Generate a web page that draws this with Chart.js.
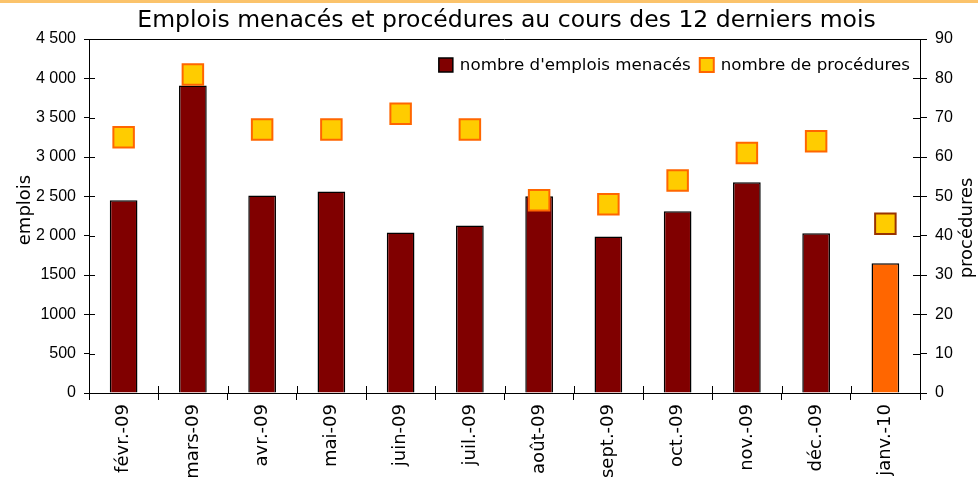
<!DOCTYPE html>
<html>
<head>
<meta charset="utf-8">
<script src="https://cdn.jsdelivr.net/npm/chart.js@4.4.1/dist/chart.umd.min.js"></script>
<style>
    html, body { margin: 0; padding: 0; background: #fff; }
    #wrap { width: 978px; height: 478px; position: relative; }
</style>
</head>
<body>
<div id="wrap"><canvas id="c" width="978" height="478"></canvas></div>
<script>
// valeurs
var months = ['févr.-09', 'mars-09', 'avr.-09', 'mai-09', 'juin-09', 'juil.-09', 'août-09', 'sept.-09', 'oct.-09', 'nov.-09', 'déc.-09', 'janv.-10'];
var emplois = [2450, 3910, 2510, 2560, 2040, 2130, 2500, 1990, 2310, 2680, 2030, 1650];
var procedures = [65, 81, 67, 67, 71, 67, 49, 48, 54, 61, 64, 43];
var leftTicks = ['0', '500', '1000', '1500', '2 000', '2 500', '3 000', '3 500', '4 000', '4 500'];
var rightTicks = ['0', '10', '20', '30', '40', '50', '60', '70', '80', '90'];
var titre = 'Emplois menacés et procédures au cours des 12 derniers mois';

var FONT = "'DejaVu Sans', Verdana, sans-serif";
var TICKFONT = "'Liberation Sans', Arial, sans-serif";
var last = emplois.length - 1;

// bordure orange, titre, ligne du haut, petits traits intérieurs, titres d'axes, légende
var decor = {
    id: 'decor',
    beforeDraw: function(chart) {
        var ctx = chart.ctx;
        ctx.save();
        ctx.fillStyle = '#fbc36b';
        ctx.fillRect(0, 0, chart.width, 3);
        ctx.restore();
    },
    afterDraw: function(chart) {
        var ctx = chart.ctx, a = chart.chartArea;
        var x = chart.scales.x, y = chart.scales.y, y1 = chart.scales.y1;
        ctx.save();

        // titre centré sur la zone de tracé
        ctx.fillStyle = '#000';
        ctx.font = '23.5px ' + FONT;
        ctx.textAlign = 'center';
        ctx.textBaseline = 'middle';
        ctx.fillText(titre, (a.left + a.right) / 2 + 2, 21);

        ctx.strokeStyle = '#000';
        ctx.lineWidth = 1;
        ctx.beginPath();
        ctx.moveTo(a.left, a.top + 0.5);
        ctx.lineTo(a.right, a.top + 0.5);
        var i, p;
        for (i = 0; i < y.ticks.length; i++) {
            p = Math.round(y.getPixelForTick(i)) + 0.5;
            ctx.moveTo(a.left, p); ctx.lineTo(a.left + 6, p);
        }
        for (i = 0; i < y1.ticks.length; i++) {
            p = Math.round(y1.getPixelForTick(i)) + 0.5;
            ctx.moveTo(a.right - 7, p); ctx.lineTo(a.right, p);
        }
        for (i = 0; i <= months.length; i++) {
            p = Math.round(x.left + i * x.width / months.length) + 0.5;
            ctx.moveTo(p, a.bottom - 7); ctx.lineTo(p, a.bottom);
        }
        ctx.stroke();

        // titres d'axes (tous deux lus de bas en haut)
        ctx.font = '18px ' + FONT;
        ctx.save(); ctx.translate(25, 210); ctx.rotate(-Math.PI / 2); ctx.fillText('emplois', 0, 0); ctx.restore();
        ctx.save(); ctx.translate(967, 228); ctx.rotate(-Math.PI / 2); ctx.fillText('procédures', 0, 0); ctx.restore();

        // légende
        ctx.font = '16.7px ' + FONT;
        ctx.textAlign = 'left';
        var t1 = chart.data.datasets[0].label, t2 = chart.data.datasets[1].label;
        var w2 = ctx.measureText(t2).width, w1 = ctx.measureText(t1).width;
        var end = 910, cy = 65, box = 14, gap = 7;
        var x2 = end - w2 - gap - box;
        var x1 = x2 - 9 - w1 - gap - box;
        ctx.fillStyle = '#800000';
        ctx.fillRect(x1, cy - box / 2, box, box);
        ctx.lineWidth = 1.5; ctx.strokeStyle = '#000';
        ctx.strokeRect(x1, cy - box / 2, box, box);
        ctx.fillStyle = '#000';
        ctx.fillText(t1, x1 + box + gap, cy + 1);
        ctx.fillStyle = '#ffcc00';
        ctx.fillRect(x2, cy - box / 2, box, box);
        ctx.lineWidth = 2; ctx.strokeStyle = '#ff6600';
        ctx.strokeRect(x2, cy - box / 2, box, box);
        ctx.fillStyle = '#000';
        ctx.fillText(t2, x2 + box + gap, cy + 1);
        ctx.restore();
    }
};

new Chart(document.getElementById('c'), {
    data: {
        labels: months,
        datasets: [
            { type: 'bar', label: "nombre d'emplois menacés", data: emplois, yAxisID: 'y', order: 2,
              backgroundColor: emplois.map(function(v, i) { return i === last ? '#ff6600' : '#800000'; }),
              borderColor: '#000', borderWidth: 1.5, barPercentage: 0.4, categoryPercentage: 1 },
            { type: 'line', label: 'nombre de procédures', data: procedures, yAxisID: 'y1', order: 1,
              showLine: false, pointStyle: 'rect', pointRadius: 14.5, pointBorderWidth: 2,
              pointBackgroundColor: '#ffcc00',
              pointBorderColor: procedures.map(function(v, i) { return i === last ? '#993300' : '#ff6600'; }) }
        ]
    },
    options: {
        responsive: false, animation: false, events: [],
        layout: { padding: { top: 39, left: 0, right: 0, bottom: 0 } },
        plugins: {
            legend: { display: false },
            tooltip: { enabled: false },
            title: { display: false }
        },
        scales: {
            x: {
                offset: true,
                grid: { display: true, offset: true, drawOnChartArea: false, tickLength: 7, color: '#000' },
                border: { color: '#000', width: 1 },
                ticks: { minRotation: 90, maxRotation: 90, autoSkip: false, padding: 4, color: '#000',
                         font: { family: FONT, size: 18 } },
                afterFit: function(s) { s.height = 85; }
            },
            y: {
                position: 'left', min: 0, max: 4500,
                grid: { drawOnChartArea: false, tickLength: 5, color: '#000' },
                border: { color: '#000', width: 1 },
                ticks: { stepSize: 500, padding: 8, color: '#000', font: { family: TICKFONT, size: 16 },
                         callback: function(v, i) { return leftTicks[i]; } },
                afterFit: function(s) { s.width = 89; }
            },
            y1: {
                position: 'right', min: 0, max: 90,
                grid: { drawOnChartArea: false, tickLength: 7, color: '#000' },
                border: { color: '#000', width: 1 },
                ticks: { stepSize: 10, padding: 8, color: '#000', font: { family: TICKFONT, size: 16 },
                         callback: function(v, i) { return rightTicks[i]; } },
                afterFit: function(s) { s.width = 58; }
            }
        }
    },
    plugins: [decor]
});
</script>
</body>
</html>
